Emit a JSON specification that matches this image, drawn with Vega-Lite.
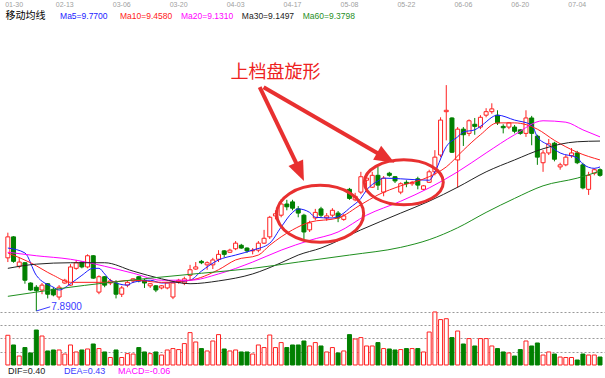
{
  "$schema": "https://vega.github.io/schema/vega-lite/v6.json",
  "width": 605,
  "height": 378,
  "padding": 0,
  "autosize": {"type": "none"},
  "background": "white",
  "config": {"view": {"stroke": null}, "axis": {"labelFont": "Liberation Sans"}, "text": {"font": "Liberation Sans"}},
  "datasets": {
    "dates": [
      {"i":1.1,"p":12.22,"d":"01-30"},{"i":10,"p":12.22,"d":"02-13"},{"i":20,"p":12.22,"d":"03-06"},{"i":30,"p":12.22,"d":"03-20"},{"i":40,"p":12.22,"d":"04-03"},{"i":50,"p":12.22,"d":"04-17"},
      {"i":60,"p":12.22,"d":"05-08"},{"i":70,"p":12.22,"d":"05-22"},{"i":80,"p":12.22,"d":"06-06"},{"i":90,"p":12.22,"d":"06-20"},{"i":100,"p":12.22,"d":"07-04"}
    ],
    "k": [
      {"i":0,"open":8.65,"high":9.01,"low":8.59,"close":8.95,"vol":44700},
      {"i":1,"open":8.95,"high":8.96,"low":8.58,"close":8.60,"vol":30100},
      {"i":2,"open":8.53,"high":8.66,"low":8.50,"close":8.59,"vol":13500},
      {"i":3,"open":8.58,"high":8.59,"low":8.28,"close":8.33,"vol":26200},
      {"i":4,"open":8.29,"high":8.30,"low":8.18,"close":8.19,"vol":18100},
      {"i":5,"open":8.23,"high":8.26,"low":7.89,"close":8.18,"vol":52600},
      {"i":6,"open":8.19,"high":8.29,"low":8.13,"close":8.26,"vol":43600},
      {"i":7,"open":8.28,"high":8.29,"low":8.07,"close":8.13,"vol":21100},
      {"i":8,"open":8.20,"high":8.23,"low":8.10,"close":8.12,"vol":22600},
      {"i":9,"open":8.09,"high":8.26,"low":8.05,"close":8.23,"vol":22600},
      {"i":10,"open":8.29,"high":8.35,"low":8.28,"close":8.33,"vol":16500},
      {"i":11,"open":8.26,"high":8.56,"low":8.25,"close":8.52,"vol":30100},
      {"i":12,"open":8.50,"high":8.62,"low":8.48,"close":8.58,"vol":19600},
      {"i":13,"open":8.59,"high":8.60,"low":8.50,"close":8.52,"vol":22600},
      {"i":14,"open":8.52,"high":8.70,"low":8.50,"close":8.68,"vol":24100},
      {"i":15,"open":8.68,"high":8.69,"low":8.35,"close":8.36,"vol":31600},
      {"i":16,"open":8.16,"high":8.40,"low":8.13,"close":8.38,"vol":24700},
      {"i":17,"open":8.38,"high":8.39,"low":8.23,"close":8.26,"vol":19600},
      {"i":18,"open":8.29,"high":8.35,"low":8.26,"close":8.32,"vol":11300},
      {"i":19,"open":8.29,"high":8.33,"low":8.07,"close":8.13,"vol":22600},
      {"i":20,"open":8.13,"high":8.25,"low":8.09,"close":8.22,"vol":11300},
      {"i":21,"open":8.26,"high":8.32,"low":8.23,"close":8.30,"vol":17100},
      {"i":22,"open":8.32,"high":8.36,"low":8.29,"close":8.35,"vol":16500},
      {"i":23,"open":8.38,"high":8.39,"low":8.30,"close":8.32,"vol":26200},
      {"i":24,"open":8.33,"high":8.35,"low":8.22,"close":8.29,"vol":19600},
      {"i":25,"open":8.25,"high":8.29,"low":8.22,"close":8.28,"vol":17100},
      {"i":26,"open":8.25,"high":8.26,"low":8.16,"close":8.19,"vol":19600},
      {"i":27,"open":8.22,"high":8.26,"low":8.20,"close":8.25,"vol":15000},
      {"i":28,"open":8.22,"high":8.30,"low":8.20,"close":8.29,"vol":22600},
      {"i":29,"open":8.09,"high":8.32,"low":8.06,"close":8.29,"vol":24700},
      {"i":30,"open":8.30,"high":8.35,"low":8.28,"close":8.33,"vol":23200},
      {"i":31,"open":8.29,"high":8.38,"low":8.26,"close":8.35,"vol":32200},
      {"i":32,"open":8.40,"high":8.55,"low":8.33,"close":8.48,"vol":48700},
      {"i":33,"open":8.49,"high":8.59,"low":8.48,"close":8.52,"vol":34600},
      {"i":34,"open":8.60,"high":8.62,"low":8.56,"close":8.58,"vol":24700},
      {"i":35,"open":8.55,"high":8.60,"low":8.48,"close":8.58,"vol":21100},
      {"i":36,"open":8.55,"high":8.65,"low":8.49,"close":8.62,"vol":36100},
      {"i":37,"open":8.63,"high":8.76,"low":8.59,"close":8.70,"vol":45700},
      {"i":38,"open":8.75,"high":8.76,"low":8.66,"close":8.70,"vol":24100},
      {"i":39,"open":8.73,"high":8.78,"low":8.72,"close":8.76,"vol":21100},
      {"i":40,"open":8.78,"high":8.89,"low":8.76,"close":8.86,"vol":22600},
      {"i":41,"open":8.83,"high":8.85,"low":8.78,"close":8.79,"vol":19600},
      {"i":42,"open":8.79,"high":8.80,"low":8.72,"close":8.75,"vol":19600},
      {"i":43,"open":8.75,"high":8.79,"low":8.70,"close":8.76,"vol":16500},
      {"i":44,"open":8.76,"high":8.89,"low":8.73,"close":8.86,"vol":30100},
      {"i":45,"open":8.86,"high":9.05,"low":8.85,"close":8.93,"vol":26200},
      {"i":46,"open":8.95,"high":9.25,"low":8.92,"close":9.23,"vol":45100},
      {"i":47,"open":9.25,"high":9.33,"low":9.20,"close":9.28,"vol":26200},
      {"i":48,"open":9.26,"high":9.49,"low":9.23,"close":9.42,"vol":33700},
      {"i":49,"open":9.42,"high":9.48,"low":9.33,"close":9.38,"vol":26200},
      {"i":50,"open":9.45,"high":9.48,"low":9.33,"close":9.36,"vol":30100},
      {"i":51,"open":9.35,"high":9.39,"low":9.23,"close":9.29,"vol":30100},
      {"i":52,"open":9.26,"high":9.28,"low":8.89,"close":9.02,"vol":36100},
      {"i":53,"open":9.05,"high":9.18,"low":9.02,"close":9.15,"vol":28600},
      {"i":54,"open":9.22,"high":9.35,"low":9.19,"close":9.30,"vol":33700},
      {"i":55,"open":9.35,"high":9.38,"low":9.23,"close":9.26,"vol":28600},
      {"i":56,"open":9.22,"high":9.29,"low":9.18,"close":9.25,"vol":19600},
      {"i":57,"open":9.26,"high":9.36,"low":9.23,"close":9.33,"vol":26200},
      {"i":58,"open":9.29,"high":9.32,"low":9.16,"close":9.22,"vol":18100},
      {"i":59,"open":9.20,"high":9.28,"low":9.18,"close":9.25,"vol":21100},
      {"i":60,"open":9.63,"high":9.65,"low":9.48,"close":9.50,"vol":45700},
      {"i":61,"open":9.48,"high":9.58,"low":9.46,"close":9.53,"vol":39100},
      {"i":62,"open":9.59,"high":9.88,"low":9.56,"close":9.81,"vol":41200},
      {"i":63,"open":9.76,"high":9.83,"low":9.66,"close":9.79,"vol":28600},
      {"i":64,"open":9.66,"high":9.88,"low":9.65,"close":9.83,"vol":28600},
      {"i":65,"open":9.83,"high":9.95,"low":9.62,"close":9.69,"vol":33700},
      {"i":66,"open":9.59,"high":9.82,"low":9.53,"close":9.79,"vol":24700},
      {"i":67,"open":9.86,"high":9.88,"low":9.81,"close":9.83,"vol":24100},
      {"i":68,"open":9.81,"high":9.82,"low":9.72,"close":9.75,"vol":22600},
      {"i":69,"open":9.59,"high":9.73,"low":9.56,"close":9.71,"vol":23200},
      {"i":70,"open":9.73,"high":9.76,"low":9.66,"close":9.71,"vol":24700},
      {"i":71,"open":9.71,"high":9.75,"low":9.68,"close":9.73,"vol":24700},
      {"i":72,"open":9.78,"high":9.81,"low":9.63,"close":9.69,"vol":24700},
      {"i":73,"open":9.63,"high":9.69,"low":9.62,"close":9.68,"vol":19600},
      {"i":74,"open":9.73,"high":9.91,"low":9.72,"close":9.88,"vol":49600},
      {"i":75,"open":9.88,"high":10.19,"low":9.83,"close":10.09,"vol":79700},
      {"i":76,"open":10.12,"high":10.66,"low":10.09,"close":10.62,"vol":68300},
      {"i":77,"open":10.74,"high":11.12,"low":10.33,"close":10.76,"vol":69600},
      {"i":78,"open":10.65,"high":10.66,"low":10.15,"close":10.16,"vol":41200},
      {"i":79,"open":10.05,"high":10.52,"low":9.65,"close":10.49,"vol":51100},
      {"i":80,"open":10.49,"high":10.52,"low":10.25,"close":10.41,"vol":31600},
      {"i":81,"open":10.43,"high":10.63,"low":10.39,"close":10.61,"vol":39700},
      {"i":82,"open":10.56,"high":10.65,"low":10.41,"close":10.53,"vol":28600},
      {"i":83,"open":10.52,"high":10.69,"low":10.49,"close":10.66,"vol":39700},
      {"i":84,"open":10.69,"high":10.79,"low":10.66,"close":10.74,"vol":39700},
      {"i":85,"open":10.74,"high":10.86,"low":10.71,"close":10.78,"vol":28600},
      {"i":86,"open":10.69,"high":10.76,"low":10.55,"close":10.58,"vol":24700},
      {"i":87,"open":10.53,"high":10.56,"low":10.43,"close":10.51,"vol":19600},
      {"i":88,"open":10.52,"high":10.59,"low":10.49,"close":10.58,"vol":18100},
      {"i":89,"open":10.52,"high":10.55,"low":10.43,"close":10.46,"vol":13500},
      {"i":90,"open":10.48,"high":10.49,"low":10.41,"close":10.43,"vol":23200},
      {"i":91,"open":10.43,"high":10.76,"low":10.38,"close":10.65,"vol":36100},
      {"i":92,"open":10.65,"high":10.68,"low":10.26,"close":10.43,"vol":28600},
      {"i":93,"open":10.39,"high":10.41,"low":9.98,"close":10.09,"vol":33100},
      {"i":94,"open":10.01,"high":10.19,"low":9.88,"close":10.15,"vol":15000},
      {"i":95,"open":10.15,"high":10.35,"low":10.12,"close":10.28,"vol":19600},
      {"i":96,"open":10.29,"high":10.31,"low":10.03,"close":10.06,"vol":16500},
      {"i":97,"open":9.95,"high":10.01,"low":9.91,"close":9.98,"vol":12000},
      {"i":98,"open":9.98,"high":10.12,"low":9.96,"close":10.09,"vol":11300},
      {"i":99,"open":10.11,"high":10.22,"low":10.08,"close":10.15,"vol":11300},
      {"i":100,"open":10.15,"high":10.18,"low":9.99,"close":10.01,"vol":7500},
      {"i":101,"open":9.98,"high":10.01,"low":9.63,"close":9.65,"vol":16500},
      {"i":102,"open":9.63,"high":9.88,"low":9.55,"close":9.83,"vol":15000},
      {"i":103,"open":9.86,"high":9.93,"low":9.83,"close":9.91,"vol":15000},
      {"i":104,"open":9.91,"high":9.93,"low":9.81,"close":9.83,"vol":12000}
    ],
    "ma": [
      {"ma":"MA5","i":0,"v":8.79},{"ma":"MA5","i":3,"v":8.72},{"ma":"MA5","i":5,"v":8.40},{"ma":"MA5","i":8,"v":8.23},{"ma":"MA5","i":9,"v":8.19},{"ma":"MA5","i":11,"v":8.28},{"ma":"MA5","i":13,"v":8.40},{"ma":"MA5","i":15,"v":8.50},{"ma":"MA5","i":16,"v":8.50},{"ma":"MA5","i":17,"v":8.42},{"ma":"MA5","i":18,"v":8.33},{"ma":"MA5","i":21,"v":8.26},{"ma":"MA5","i":22,"v":8.30},{"ma":"MA5","i":25,"v":8.33},{"ma":"MA5","i":27,"v":8.29},{"ma":"MA5","i":29,"v":8.30},{"ma":"MA5","i":32,"v":8.33},{"ma":"MA5","i":34,"v":8.46},{"ma":"MA5","i":37,"v":8.62},{"ma":"MA5","i":40,"v":8.69},{"ma":"MA5","i":43,"v":8.76},{"ma":"MA5","i":46,"v":8.86},{"ma":"MA5","i":48,"v":9.09},{"ma":"MA5","i":50,"v":9.30},{"ma":"MA5","i":51,"v":9.35},{"ma":"MA5","i":53,"v":9.30},{"ma":"MA5","i":54,"v":9.23},{"ma":"MA5","i":57,"v":9.22},{"ma":"MA5","i":59,"v":9.29},{"ma":"MA5","i":60,"v":9.36},{"ma":"MA5","i":62,"v":9.50},{"ma":"MA5","i":63,"v":9.62},{"ma":"MA5","i":65,"v":9.75},{"ma":"MA5","i":66,"v":9.79},{"ma":"MA5","i":69,"v":9.78},{"ma":"MA5","i":74,"v":9.76},{"ma":"MA5","i":75,"v":9.88},{"ma":"MA5","i":77,"v":10.24},{"ma":"MA5","i":79,"v":10.38},{"ma":"MA5","i":80,"v":10.45},{"ma":"MA5","i":82,"v":10.48},{"ma":"MA5","i":83,"v":10.53},{"ma":"MA5","i":86,"v":10.69},{"ma":"MA5","i":89,"v":10.62},{"ma":"MA5","i":92,"v":10.55},{"ma":"MA5","i":93,"v":10.38},{"ma":"MA5","i":95,"v":10.26},{"ma":"MA5","i":97,"v":10.15},{"ma":"MA5","i":100,"v":10.08},{"ma":"MA5","i":101,"v":9.99},{"ma":"MA5","i":103,"v":9.93},{"ma":"MA5","i":104,"v":9.95},
      {"ma":"MA10","i":0,"v":8.72},{"ma":"MA10","i":4,"v":8.58},{"ma":"MA10","i":8,"v":8.40},{"ma":"MA10","i":11,"v":8.30},{"ma":"MA10","i":17,"v":8.30},{"ma":"MA10","i":22,"v":8.33},{"ma":"MA10","i":27,"v":8.30},{"ma":"MA10","i":32,"v":8.33},{"ma":"MA10","i":37,"v":8.48},{"ma":"MA10","i":40,"v":8.62},{"ma":"MA10","i":44,"v":8.69},{"ma":"MA10","i":46,"v":8.83},{"ma":"MA10","i":50,"v":9.05},{"ma":"MA10","i":53,"v":9.16},{"ma":"MA10","i":58,"v":9.22},{"ma":"MA10","i":62,"v":9.41},{"ma":"MA10","i":65,"v":9.55},{"ma":"MA10","i":69,"v":9.68},{"ma":"MA10","i":74,"v":9.81},{"ma":"MA10","i":77,"v":9.95},{"ma":"MA10","i":80,"v":10.19},{"ma":"MA10","i":83,"v":10.41},{"ma":"MA10","i":86,"v":10.58},{"ma":"MA10","i":89,"v":10.58},{"ma":"MA10","i":93,"v":10.49},{"ma":"MA10","i":96,"v":10.33},{"ma":"MA10","i":100,"v":10.16},{"ma":"MA10","i":104,"v":10.05},
      {"ma":"MA20","i":0,"v":8.73},{"ma":"MA20","i":5,"v":8.68},{"ma":"MA20","i":11,"v":8.63},{"ma":"MA20","i":17,"v":8.53},{"ma":"MA20","i":22,"v":8.43},{"ma":"MA20","i":27,"v":8.33},{"ma":"MA20","i":32,"v":8.33},{"ma":"MA20","i":37,"v":8.42},{"ma":"MA20","i":43,"v":8.59},{"ma":"MA20","i":48,"v":8.76},{"ma":"MA20","i":53,"v":8.90},{"ma":"MA20","i":58,"v":9.02},{"ma":"MA20","i":63,"v":9.26},{"ma":"MA20","i":69,"v":9.46},{"ma":"MA20","i":74,"v":9.65},{"ma":"MA20","i":79,"v":9.88},{"ma":"MA20","i":84,"v":10.15},{"ma":"MA20","i":89,"v":10.41},{"ma":"MA20","i":94,"v":10.61},{"ma":"MA20","i":98,"v":10.59},{"ma":"MA20","i":101,"v":10.48},{"ma":"MA20","i":104,"v":10.38},
      {"ma":"MA30","i":0,"v":8.50},{"ma":"MA30","i":5,"v":8.56},{"ma":"MA30","i":11,"v":8.58},{"ma":"MA30","i":17,"v":8.58},{"ma":"MA30","i":22,"v":8.46},{"ma":"MA30","i":27,"v":8.35},{"ma":"MA30","i":32,"v":8.28},{"ma":"MA30","i":37,"v":8.32},{"ma":"MA30","i":43,"v":8.42},{"ma":"MA30","i":48,"v":8.58},{"ma":"MA30","i":51,"v":8.69},{"ma":"MA30","i":55,"v":8.79},{"ma":"MA30","i":62,"v":9.05},{"ma":"MA30","i":69,"v":9.29},{"ma":"MA30","i":74,"v":9.46},{"ma":"MA30","i":79,"v":9.66},{"ma":"MA30","i":84,"v":9.88},{"ma":"MA30","i":89,"v":10.05},{"ma":"MA30","i":94,"v":10.21},{"ma":"MA30","i":100,"v":10.31},{"ma":"MA30","i":104,"v":10.32},
      {"ma":"MA60","i":0,"v":8.10},{"ma":"MA60","i":5,"v":8.16},{"ma":"MA60","i":10,"v":8.22},{"ma":"MA60","i":17,"v":8.29},{"ma":"MA60","i":25,"v":8.36},{"ma":"MA60","i":34,"v":8.43},{"ma":"MA60","i":43,"v":8.50},{"ma":"MA60","i":51,"v":8.59},{"ma":"MA60","i":60,"v":8.69},{"ma":"MA60","i":69,"v":8.80},{"ma":"MA60","i":74,"v":8.91},{"ma":"MA60","i":79,"v":9.08},{"ma":"MA60","i":84,"v":9.30},{"ma":"MA60","i":89,"v":9.50},{"ma":"MA60","i":94,"v":9.68},{"ma":"MA60","i":100,"v":9.79},{"ma":"MA60","i":104,"v":9.89}
    ]
  },
  "layer": [
    {
      "data": {"name": "k"},
      "layer": [
        {
          "mark": {"type": "bar", "size": 4, "strokeWidth": 1},
          "encoding": {
            "x": {"field": "i", "type": "quantitative", "scale": {"domain": [-0.5, 104], "nice": false, "zero": false}, "axis": null},
            "y": {"field": "vol", "type": "quantitative", "scale": {"domain": [-19549, 548872], "nice": false, "zero": false},
              "axis": {"values": [20000, 40000, 60000, 80000], "grid": true, "gridDash": [2, 2], "gridColor": "#999999", "gridWidth": 1,
                "labels": false, "ticks": false, "domain": false, "title": null}},
            "y2": {"datum": 0},
            "fill": {"condition": {"test": "datum.close >= datum.open", "value": "#ffffff"}, "value": "#008000"},
            "stroke": {"condition": {"test": "datum.close >= datum.open", "value": "#ff2020"}, "value": "#008000"}
          }
        }
      ]
    },
    {
      "layer": [
        {
          "data": {"name": "k"},
          "mark": {"type": "rule", "strokeWidth": 1},
          "encoding": {
            "x": {"field": "i", "type": "quantitative", "axis": null},
            "y": {"field": "high", "type": "quantitative", "scale": {"domain": [6.932, 12.337], "nice": false, "zero": false}, "axis": null},
            "y2": {"field": "low"},
            "color": {"condition": {"test": "datum.close >= datum.open", "value": "#ff2020"}, "value": "#008000"}
          }
        },
        {
          "data": {"name": "k"},
          "mark": {"type": "bar", "size": 4, "strokeWidth": 1},
          "encoding": {
            "x": {"field": "i", "type": "quantitative", "axis": null},
            "y": {"field": "open", "type": "quantitative", "axis": null},
            "y2": {"field": "close"},
            "fill": {"condition": {"test": "datum.close >= datum.open", "value": "#ffffff"}, "value": "#008000"},
            "stroke": {"condition": {"test": "datum.close >= datum.open", "value": "#ff2020"}, "value": "#008000"}
          }
        },
        {
          "data": {"name": "ma"},
          "mark": {"type": "line", "strokeWidth": 1, "interpolate": "monotone"},
          "encoding": {
            "x": {"field": "i", "type": "quantitative", "axis": null},
            "y": {"field": "v", "type": "quantitative", "axis": null},
            "color": {"field": "ma", "type": "nominal", "legend": null,
              "scale": {"domain": ["MA5", "MA10", "MA20", "MA30", "MA60"], "range": ["#1a1aff", "#ff2020", "#ff00ff", "#222222", "#1f8f1f"]}}
          }
        },
        {
          "data": {"name": "dates"},
          "mark": {"type": "text", "align": "center", "baseline": "bottom", "fontSize": 7, "color": "#a0a0a0"},
          "encoding": {
            "x": {"field": "i", "type": "quantitative", "axis": null},
            "y": {"field": "p", "type": "quantitative", "axis": null},
            "text": {"field": "d", "type": "nominal"}
          }
        },
        {
          "data": {"values": [{}]},
          "mark": {"type": "rule", "strokeWidth": 1, "color": "#3a3aff"},
          "encoding": {"x": {"datum": 5}, "y": {"datum": 7.89}, "x2": {"datum": 7.44}, "y2": {"datum": 7.95}}
        },
        {
          "data": {"values": [{}]},
          "mark": {"type": "text", "align": "left", "baseline": "middle", "fontSize": 10, "color": "#3a3aff"},
          "encoding": {"x": {"datum": 7.62}, "y": {"datum": 7.95}, "text": {"value": "7.8900"}}
        },
        {
          "data": {"values": [{}]},
          "mark": {"type": "point", "shape": "M-1,0 A1,0.655 0 1,0 1,0 A1,0.655 0 1,0 -1,0 Z", "size": 7569, "filled": false, "stroke": "#e83030", "strokeWidth": 3, "opacity": 1},
          "encoding": {"x": {"datum": 54.85}, "y": {"datum": 9.28}}
        },
        {
          "data": {"values": [{}]},
          "mark": {"type": "point", "shape": "M-1,0 A1,0.57 0 1,0 1,0 A1,0.57 0 1,0 -1,0 Z", "size": 6241, "filled": false, "stroke": "#e83030", "strokeWidth": 3, "opacity": 1},
          "encoding": {"x": {"datum": 69.54}, "y": {"datum": 9.73}}
        },
        {
          "data": {"values": [{}]},
          "mark": {"type": "rule", "strokeWidth": 4, "color": "#e83030"},
          "encoding": {"x": {"datum": 44.23}, "y": {"datum": 11.09}, "x2": {"datum": 50.97}, "y2": {"datum": 9.95}}
        },
        {
          "data": {"values": [{}]},
          "mark": {"type": "rule", "strokeWidth": 4, "color": "#e83030"},
          "encoding": {"x": {"datum": 44.92}, "y": {"datum": 11.09}, "x2": {"datum": 65.48}, "y2": {"datum": 10.12}}
        },
        {
          "data": {"values": [{}]},
          "mark": {"type": "point", "shape": "M0,0 L-0.8,-2 L0.8,-2 Z", "size": 400, "filled": true, "fill": "#e83030", "strokeWidth": 0, "opacity": 1, "angle": 336},
          "encoding": {"x": {"datum": 52.0}, "y": {"datum": 9.75}}
        },
        {
          "data": {"values": [{}]},
          "mark": {"type": "point", "shape": "M0,0 L-0.8,-2 L0.8,-2 Z", "size": 400, "filled": true, "fill": "#e83030", "strokeWidth": 0, "opacity": 1, "angle": 300},
          "encoding": {"x": {"datum": 67.9}, "y": {"datum": 10.01}}
        },
        {
          "data": {"values": [{}]},
          "mark": {"type": "text", "align": "center", "baseline": "middle", "fontSize": 18, "font": "Noto Sans CJK SC", "color": "#ee2222"},
          "encoding": {"x": {"datum": 47.0}, "y": {"datum": 11.29}, "text": {"value": "上档盘旋形"}}
        },
        {
          "data": {"values": [{}]},
          "mark": {"type": "text", "align": "left", "baseline": "middle", "fontSize": 10, "font": "Noto Sans CJK SC", "color": "#000000"},
          "encoding": {"x": {"datum": -0.4}, "y": {"datum": 12.11}, "text": {"value": "移动均线"}}
        },
        {
          "data": {"values": [{}]},
          "mark": {"type": "text", "align": "left", "baseline": "middle", "fontSize": 8.5, "color": "#1a1aff"},
          "encoding": {"x": {"datum": 9.17}, "y": {"datum": 12.11}, "text": {"value": "Ma5=9.7700"}}
        },
        {
          "data": {"values": [{}]},
          "mark": {"type": "text", "align": "left", "baseline": "middle", "fontSize": 8.5, "color": "#ff2020"},
          "encoding": {"x": {"datum": 19.7}, "y": {"datum": 12.11}, "text": {"value": "Ma10=9.4580"}}
        },
        {
          "data": {"values": [{}]},
          "mark": {"type": "text", "align": "left", "baseline": "middle", "fontSize": 8.5, "color": "#ff00ff"},
          "encoding": {"x": {"datum": 30.4}, "y": {"datum": 12.11}, "text": {"value": "Ma20=9.1310"}}
        },
        {
          "data": {"values": [{}]},
          "mark": {"type": "text", "align": "left", "baseline": "middle", "fontSize": 8.5, "color": "#222222"},
          "encoding": {"x": {"datum": 41.1}, "y": {"datum": 12.11}, "text": {"value": "Ma30=9.1497"}}
        },
        {
          "data": {"values": [{}]},
          "mark": {"type": "text", "align": "left", "baseline": "middle", "fontSize": 8.5, "color": "#1f8f1f"},
          "encoding": {"x": {"datum": 51.8}, "y": {"datum": 12.11}, "text": {"value": "Ma60=9.3798"}}
        },
        {
          "data": {"values": [{}]},
          "mark": {"type": "text", "align": "left", "baseline": "middle", "fontSize": 9, "color": "#222222"},
          "encoding": {"x": {"datum": 0.02}, "y": {"datum": 7.03}, "text": {"value": "DIF=0.40"}}
        },
        {
          "data": {"values": [{}]},
          "mark": {"type": "text", "align": "left", "baseline": "middle", "fontSize": 9, "color": "#3a3aff"},
          "encoding": {"x": {"datum": 9.86}, "y": {"datum": 7.03}, "text": {"value": "DEA=0.43"}}
        },
        {
          "data": {"values": [{}]},
          "mark": {"type": "text", "align": "left", "baseline": "middle", "fontSize": 9, "color": "#ff00ff"},
          "encoding": {"x": {"datum": 19.36}, "y": {"datum": 7.03}, "text": {"value": "MACD=-0.06"}}
        }
      ]
    }
  ],
  "resolve": {"scale": {"y": "independent"}}
}
